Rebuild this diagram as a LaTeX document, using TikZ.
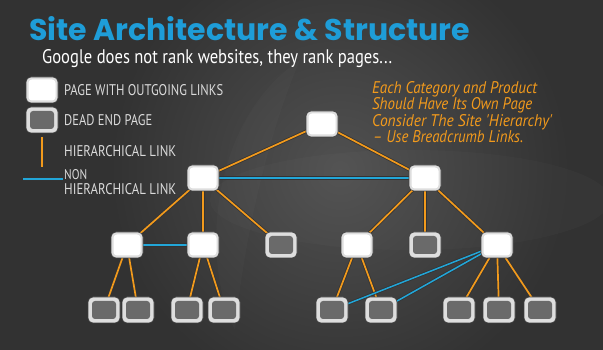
\documentclass[tikz,border=0pt]{standalone}
\usepackage{fontspec}
\setmainfont{PT Sans}
\newfontfamily\titlefont{Poppins}
\newfontfamily\condfont{PT Sans}
\pgfdeclarelayer{bglayer}
\pgfdeclarelayer{edgelayer}
\pgfsetlayers{bglayer,edgelayer,main}
\definecolor{bgc}{HTML}{323232}
\definecolor{titleblue}{HTML}{1E9DD8}
\definecolor{orangec}{HTML}{F29A1C}
\definecolor{bluec}{HTML}{22A6D8}
\definecolor{rimc}{HTML}{DEDEDE}
\definecolor{deadc}{HTML}{6A6A6A}
\definecolor{legc}{HTML}{DADADA}
\tikzset{
  pagebox/.style={rectangle, rounded corners=5pt, minimum width=32pt, minimum height=26pt,
    inner sep=0pt, fill=rimc, draw=black!75, line width=0.6pt,
    path picture={\fill[white, rounded corners=3.5pt]
      ([shift={(2.5pt,2.5pt)}]path picture bounding box.south west) rectangle
      ([shift={(-2.5pt,-2.5pt)}]path picture bounding box.north east);}},
  deadbox/.style={rectangle, rounded corners=5pt, minimum width=32pt, minimum height=26pt,
    inner sep=0pt, fill=rimc, draw=black!75, line width=0.6pt,
    path picture={\fill[deadc, rounded corners=3pt]
      ([shift={(4pt,4pt)}]path picture bounding box.south west) rectangle
      ([shift={(-4pt,-4pt)}]path picture bounding box.north east);}},
  hier/.style={draw=orangec, line width=1.7pt, preaction={draw=black!80, line width=3.3pt}},
  nonhier/.style={draw=bluec, line width=1.5pt, preaction={draw=black!80, line width=3.1pt}},
  legtext/.style={anchor=base west, inner sep=0pt, text=legc, font=\condfont},
  orangetext/.style={anchor=base west, inner sep=0pt, text=orangec, font=\condfont\itshape},
}
\begin{document}
\begin{tikzpicture}[x=1pt,y=1pt]
\useasboundingbox (0,0) rectangle (603,350);
\begin{pgfonlayer}{bglayer}
  \fill[bgc] (0,0) rectangle (603,350);
  \shade[inner color=bgc!85!white, outer color=bgc] (340,180) circle [radius=230];
  \fill[white, opacity=0.018] (300,290) .. controls (210,230) and (200,90) .. (235,20)
     .. controls (245,120) and (270,220) .. (300,290) -- cycle;
  \fill[white, opacity=0.02] (410,150) ellipse [x radius=200, y radius=50];
\end{pgfonlayer}

% title
\node[anchor=base west, inner sep=0pt, text=titleblue] (title) at (29,309)
  {\resizebox{441pt}{24pt}{\titlefont\bfseries Site Architecture \& Structure}};
\node[anchor=base west, inner sep=0pt, text=white] (subtitle) at (42,286)
  {\resizebox{350pt}{14pt}{\condfont Google does not rank websites, they rank pages...}};

% legend
\node[pagebox] (lw) at (42,260) {};
\node[deadbox] (ld) at (42,230) {};
\coordinate (lh1) at (42,213);
\coordinate (lh2) at (42,183);
\coordinate (lb1) at (23,171);
\coordinate (lb2) at (63,171);
\begin{pgfonlayer}{edgelayer}
  \draw[hier] (lh1) -- (lh2);
  \draw[nonhier] (lb1) -- (lb2);
\end{pgfonlayer}
\node[legtext] (t1) at (64,254) {\resizebox{159pt}{11pt}{PAGE WITH OUTGOING LINKS}};
\node[legtext] (t2) at (64,224) {\resizebox{88pt}{11pt}{DEAD END PAGE}};
\node[legtext] (t3) at (64,193) {\resizebox{112pt}{11pt}{HIERARCHICAL LINK}};
\node[legtext] (t4) at (64,170) {\resizebox{23pt}{10pt}{NON}};
\node[legtext] (t5) at (64,155) {\resizebox{112pt}{11pt}{HIERARCHICAL LINK}};

% orange note
\node[orangetext] (o1) at (372,256) {\resizebox{165pt}{12pt}{Each Category and Product}};
\node[orangetext] (o2) at (372,240) {\resizebox{160pt}{12pt}{Should Have Its Own Page}};
\node[orangetext] (o3) at (372,223) {\resizebox{180pt}{12pt}{Consider The Site \textquotesingle Hierarchy\textquotesingle}};
\node[orangetext] (o4) at (373,207) {\resizebox{150pt}{12pt}{– Use Breadcrumb Links.}};

% tree
\node[pagebox] (r) at (322,226) {};
\node[pagebox] (a) at (203,172) {};
\node[pagebox] (b) at (425,172) {};
\node[pagebox] (c) at (127,105) {};
\node[pagebox] (d) at (203,105) {};
\node[deadbox] (e) at (281,105) {};
\node[pagebox] (f) at (357,105) {};
\node[deadbox] (g) at (425,105) {};
\node[pagebox] (h) at (497,105) {};
\node[deadbox] (i) at (104,40) {};
\node[deadbox] (j) at (138,40) {};
\node[deadbox] (k) at (187,40) {};
\node[deadbox] (l) at (224,40) {};
\node[deadbox] (m) at (332,40) {};
\node[deadbox] (n) at (381,40) {};
\node[deadbox] (o) at (459,40) {};
\node[deadbox] (p) at (499,40) {};
\node[deadbox] (q) at (540,40) {};

\begin{pgfonlayer}{edgelayer}
  \foreach \u/\v in {r/a, r/b, a/c, a/d, a/e, b/f, b/g, b/h, c/i, c/j, d/k, d/l, f/m, f/n, h/o, h/p, h/q}
    \draw[hier] (\u.center) -- (\v.center);
  \foreach \u/\v in {a/b, c/d, h/m, h/n}
    \draw[nonhier] (\u.center) -- (\v.center);
\end{pgfonlayer}
\end{tikzpicture}
\end{document}
